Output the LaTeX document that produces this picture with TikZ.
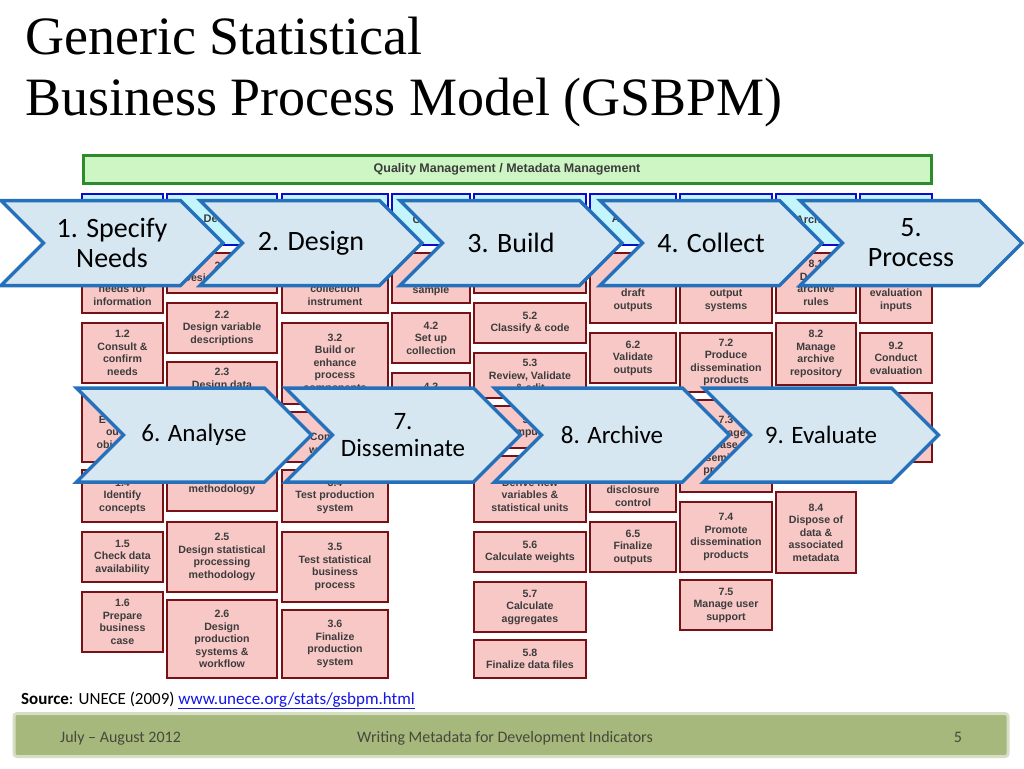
\documentclass[tikz,border=0pt]{standalone}
\usepackage{fontspec}
\setmainfont{Liberation Serif}
\newfontfamily\calfont{Carlito}
\newfontfamily\arifont{Liberation Sans}
\usetikzlibrary{shapes.symbols}

\definecolor{chevfill}{RGB}{214,231,242}
\definecolor{chevline}{RGB}{36,112,186}
\definecolor{subfill}{RGB}{248,200,198}
\definecolor{subline}{RGB}{118,18,22}
\definecolor{qmfill}{RGB}{206,246,196}
\definecolor{qmline}{RGB}{44,140,44}
\definecolor{hdfill}{RGB}{196,244,252}
\definecolor{hdline}{RGB}{10,10,210}
\definecolor{foot}{RGB}{166,184,124}
\definecolor{footedge}{RGB}{214,222,196}
\definecolor{foottext}{RGB}{72,72,60}
\definecolor{boxtext}{RGB}{60,60,60}
\definecolor{linkblue}{RGB}{20,20,230}

% box of the GSBPM grid: style, name, x1, y1, x2, y2 (text follows)
\newcommand{\gbox}[7]{%
  \node[#1, minimum width={#5-#3}, minimum height={#6-#4}] (#2) at ({(#3+#5)/2},{(#4+#6)/2}) {#7};}
% line hidden under a phase arrow
\newcommand{\hid}[1]{\phantom{#1}}

\begin{document}
\begin{tikzpicture}[x=1pt,y=-1pt,
    sub/.style={draw=subline, line width=2.6pt, fill=subfill, inner sep=0pt, align=center,
      text=boxtext, font=\arifont\bfseries\fontsize{10.6}{12.5}\selectfont},
    hd/.style={draw=hdline, line width=2.6pt, fill=hdfill, inner sep=0pt, align=center,
      text=boxtext, font=\arifont\bfseries\fontsize{11}{13}\selectfont},
    chev/.style={signal, signal from=west, signal to=east, draw=chevline, fill=chevfill,
      line width=3.5pt, inner sep=0pt, align=center, minimum width=222, minimum height=85,
      font=\calfont\fontsize{28}{30}\selectfont},
    chevlow/.style={chev, minimum width=235, minimum height=94, font=\calfont\fontsize{25}{27}\selectfont},
    foottxt/.style={anchor=base, inner sep=0pt, text=foottext, font=\calfont\fontsize{16}{18}\selectfont}]
  \useasboundingbox (0,0) rectangle (1024,768);

  % title
  \node[anchor=base west, inner sep=0pt, font=\fontsize{54}{60}\selectfont] (t1) at (25,55) {Generic Statistical};
  \node[anchor=base west, inner sep=0pt, font=\fontsize{54}{60}\selectfont] (t2) at (25,115) {Business Process Model (GSBPM)};

  % GSBPM picture
  \node[draw=qmline, line width=3pt, fill=qmfill, minimum width=848, minimum height=28, text=boxtext,
    font=\arifont\bfseries\fontsize{12.5}{14}\selectfont] (qm) at (507,169) {Quality Management / Metadata Management};

  \gbox{hd}{h1}{82}{194}{163}{245}{}
  \gbox{hd}{h2}{167}{194}{277}{245}{Design}
  \gbox{hd}{h3}{282}{194}{388}{245}{}
  \gbox{hd}{h4}{392}{194}{470}{245}{Collect}
  \gbox{hd}{h5}{474}{194}{586}{245}{}
  \gbox{hd}{h6}{590}{194}{676}{245}{Analyse}
  \gbox{hd}{h7}{680}{194}{772}{245}{}
  \gbox{hd}{h8}{776}{194}{856}{245}{Archive}
  \gbox{hd}{h9}{860}{194}{932}{245}{}

  \gbox{sub}{b11}{82}{253}{163}{313}{\hid{1.1}\\\hid{Determine}\\needs for\\information}
  \gbox{sub}{b12}{82}{323}{163}{383}{1.2\\Consult \&\\confirm\\needs}
  \gbox{sub}{b13}{82}{392}{163}{462}{1.3\\E\hid{stablish}\\ou\hid{tput}\\obj\hid{ectives}}
  \gbox{sub}{b14}{82}{470}{163}{522}{1.4\\Identify\\concepts}
  \gbox{sub}{b15}{82}{532}{163}{582}{1.5\\Check data\\availability}
  \gbox{sub}{b16}{82}{592}{163}{652}{1.6\\Prepare\\business\\case}

  \gbox{sub}{b21}{167}{253}{277}{293}{2.1\\Design outputs}
  \gbox{sub}{b22}{167}{303}{277}{353}{2.2\\Design variable\\descriptions}
  \gbox{sub}{b23}{167}{362}{277}{422}{2.3\\Design data\\\hid{collection}\\\hid{methodology}}
  \gbox{sub}{b24}{167}{431}{277}{511}{\hid{2.4}\\\hid{Design frame}\\\hid{sample}\\methodology}
  \gbox{sub}{b25}{167}{522}{277}{592}{2.5\\Design statistical\\processing\\methodology}
  \gbox{sub}{b26}{167}{600}{277}{678}{2.6\\Design\\production\\systems \&\\workflow}

  \gbox{sub}{b31}{282}{253}{388}{313}{\hid{3.1}\\\hid{Build data}\\collection\\instrument}
  \gbox{sub}{b32}{282}{323}{388}{404}{3.2\\Build or\\enhance\\process\\components}
  \gbox{sub}{b33}{282}{412}{388}{462}{\hid{3.3}\\Con\hid{figure}\\w\hid{orkflows}}
  \gbox{sub}{b34}{282}{470}{388}{522}{3.4\\Test production\\system}
  \gbox{sub}{b35}{282}{532}{388}{602}{3.5\\Test statistical\\business\\process}
  \gbox{sub}{b36}{282}{610}{388}{678}{3.6\\Finalize\\production\\system}

  \gbox{sub}{b41}{392}{253}{470}{303}{\hid{4.1}\\\hid{Select}\\sample}
  \gbox{sub}{b42}{392}{313}{470}{363}{4.2\\Set up\\collection}
  \gbox{sub}{b43}{392}{373}{470}{425}{4.3\\\hid{Run}\\\hid{collection}}
  \gbox{sub}{b44}{392}{433}{470}{480}{}

  \gbox{sub}{b51}{474}{253}{586}{293}{}
  \gbox{sub}{b52}{474}{303}{586}{343}{5.2\\Classify \& code}
  \gbox{sub}{b53}{474}{353}{586}{398}{5.3\\Review, Validate\\\& edit}
  \gbox{sub}{b54}{474}{406}{586}{448}{5.4\\Impute}
  \gbox{sub}{b55}{474}{456}{586}{522}{\hid{5.5}\\Derive new\\variables \&\\statistical units}
  \gbox{sub}{b56}{474}{532}{586}{572}{5.6\\Calculate weights}
  \gbox{sub}{b57}{474}{582}{586}{632}{5.7\\Calculate\\aggregates}
  \gbox{sub}{b58}{474}{640}{586}{678}{5.8\\Finalize data files}

  \gbox{sub}{b61}{590}{253}{676}{323}{\hid{6.1}\\\hid{Prepare}\\draft\\outputs}
  \gbox{sub}{b62}{590}{333}{676}{383}{6.2\\Validate\\outputs}
  \gbox{sub}{b63}{590}{392}{676}{448}{}
  \gbox{sub}{b64}{590}{456}{676}{512}{\hid{6.4}\\\hid{Apply}\\disclosure\\control}
  \gbox{sub}{b65}{590}{522}{676}{572}{6.5\\Finalize\\outputs}

  \gbox{sub}{b71}{680}{253}{772}{323}{\hid{7.1}\\\hid{Update}\\output\\systems}
  \gbox{sub}{b72}{680}{333}{772}{392}{7.2\\Produce\\dissemination\\products}
  \gbox{sub}{b73}{680}{400}{772}{492}{7.3\\Manage\\release of\\dissemination\\products}
  \gbox{sub}{b74}{680}{502}{772}{572}{7.4\\Promote\\dissemination\\products}
  \gbox{sub}{b75}{680}{580}{772}{630}{7.5\\Manage user\\support}

  \gbox{sub}{b81}{776}{253}{856}{313}{8.1\\Define\\archive\\rules}
  \gbox{sub}{b82}{776}{323}{856}{385}{8.2\\Manage\\archive\\repository}
  \gbox{sub}{b83}{776}{392}{856}{482}{}
  \gbox{sub}{b84}{776}{492}{856}{573}{8.4\\Dispose of\\data \&\\associated\\metadata}

  \gbox{sub}{b91}{860}{253}{932}{323}{\hid{9.1}\\\hid{Gather}\\evaluation\\inputs}
  \gbox{sub}{b92}{860}{333}{932}{383}{9.2\\Conduct\\evaluation}
  \gbox{sub}{b93}{860}{393}{932}{462}{}

  % phases
  \node[chev] (p1) at (112,243) {1. Specify\\Needs};
  \node[chev] (p2) at (311,243) {2. Design};
  \node[chev] (p3) at (511,243) {3. Build};
  \node[chev] (p4) at (711,243) {4. Collect};
  \node[chev] (p5) at (911,243) {5.\\Process};
  \node[chevlow] (p6) at (194,435) {6. Analyse};
  \node[chevlow] (p7) at (403,435) {7.\\Disseminate};
  \node[chevlow] (p8) at (612,435) {8. Archive};
  \node[chevlow] (p9) at (821,435) {9. Evaluate};

  % source and footer
  \node[anchor=base west, inner sep=0pt, font=\calfont\fontsize{17}{19}\selectfont] (src) at (21,704)
    {\textbf{Source}: UNECE (2009) \textcolor{linkblue}{\underline{www.unece.org/stats/gsbpm.html}}};
  \node[draw=footedge, line width=3pt, fill=foot, rounded corners=3pt, minimum width=994,
    minimum height=43] (bar) at (511,735) {};
  \node[foottxt, anchor=base west] (date) at (60,742) {July – August 2012};
  \node[foottxt] (talk) at (505,742) {Writing Metadata for Development Indicators};
  \node[foottxt] (page) at (958,742) {5};
\end{tikzpicture}
\end{document}
